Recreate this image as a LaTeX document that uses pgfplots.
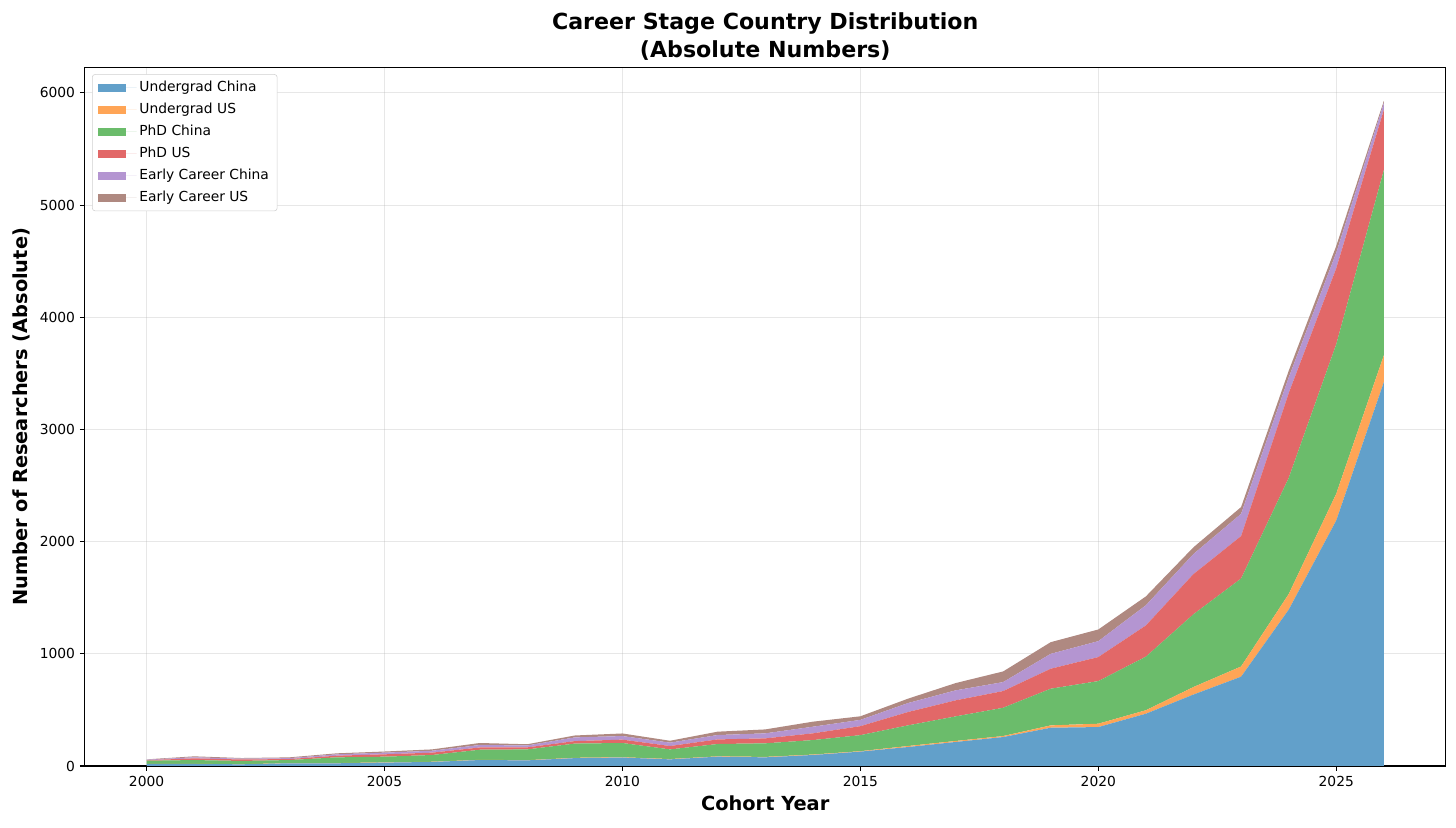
\documentclass[border=0pt]{standalone}
\usepackage{fontspec}
\setmainfont{DejaVu Sans}
\usepackage{pgfplots}
\usepackage{pgfplotstable}
\pgfplotsset{compat=1.18}
\definecolor{cA}{HTML}{62A0CA}
\definecolor{cB}{HTML}{FFA556}
\definecolor{cC}{HTML}{6BBC6B}
\definecolor{cD}{HTML}{E26868}
\definecolor{cE}{HTML}{B495D1}
\definecolor{cF}{HTML}{AF8981}
\definecolor{gridc}{HTML}{B0B0B0}
\pgfplotstableread{
year ugc ugu phdc phdu ecc ecu
2000 18 1 28 5 4 3
2001 18 1 34 15 10 8
2002 15 1 29 13 7 6
2003 24 1 28 9 8 7
2004 24 2 51 15 12 9
2005 30 2 51 21 15 10
2006 36 2 60 21 17 12
2007 53 2 90 20 22 18
2008 50 2 96 18 17 11
2009 70 3 127 22 33 17
2010 75 3 127 30 32 23
2011 59 3 86 30 30 17
2012 83 3 110 41 39 30
2013 77 4 121 44 45 35
2014 98 4 129 60 59 45
2015 128 4 143 80 56 32
2016 169 9 184 119 80 39
2017 214 9 219 143 89 65
2018 258 9 252 149 80 95
2019 341 21 327 178 133 104
2020 347 30 380 214 142 104
2021 466 31 478 278 180 79
2022 637 67 649 358 179 60
2023 796 91 784 378 199 60
2024 1393 139 1035 756 139 60
2025 2189 238 1333 677 139 60
2026 3422 239 1651 538 59 20
}\datatable
\begin{document}
\begin{tikzpicture}
\path[use as bounding box] (0,0) rectangle (14.56in,8.28in);
\begin{axis}[
  at={(0.847in,0.62in)}, anchor=south west,
  scale only axis, width=13.61in, height=6.983in,
  xmin=1998.7, xmax=2027.3, ymin=0, ymax=6225,
  xtick={2000,2005,...,2025}, ytick={0,1000,...,6000},
  /pgf/number format/1000 sep={},
  /pgf/number format/assume math mode=true,
  tick align=outside, tick pos=left, major tick length=3.5pt,
  tick style={black, line width=0.8pt},
  axis line style={line width=0.8pt},
  grid=major, grid style={gridc, opacity=0.3, line width=0.8pt},
  tick label style={font=\fontsize{10}{12}\selectfont},
  xlabel={Cohort Year}, ylabel={Number of Researchers (Absolute)},
  label style={font=\fontsize{14}{17}\selectfont\bfseries},
  title={Career Stage Country Distribution\\(Absolute Numbers)},
  title style={font=\fontsize{16}{20}\selectfont\bfseries, align=center, yshift=-4pt},
  stack plots=y,
  legend style={at={(0.0054,0.9907)}, anchor=north west,
    font=\fontsize{10}{12}\selectfont, draw=gridc!60, rounded corners=2pt,
    fill=white, inner xsep=4pt, inner ysep=3pt, row sep=2.8pt},
  legend cell align=left,
  legend image code/.code={\fill[#1,sharp corners] (0pt,-3pt) rectangle (20pt,3pt); \path (0pt,0pt) -- (28pt,0pt);},
]
\addplot[fill=cA, draw=none] table[x=year,y=ugc]{\datatable} \closedcycle;
\addlegendentry{Undergrad China}
\addplot[fill=cB, draw=none] table[x=year,y=ugu]{\datatable} \closedcycle;
\addlegendentry{Undergrad US}
\addplot[fill=cC, draw=none] table[x=year,y=phdc]{\datatable} \closedcycle;
\addlegendentry{PhD China}
\addplot[fill=cD, draw=none] table[x=year,y=phdu]{\datatable} \closedcycle;
\addlegendentry{PhD US}
\addplot[fill=cE, draw=none] table[x=year,y=ecc]{\datatable} \closedcycle;
\addlegendentry{Early Career China}
\addplot[fill=cF, draw=none] table[x=year,y=ecu]{\datatable} \closedcycle;
\addlegendentry{Early Career US}
\end{axis}
\end{tikzpicture}
\end{document}
